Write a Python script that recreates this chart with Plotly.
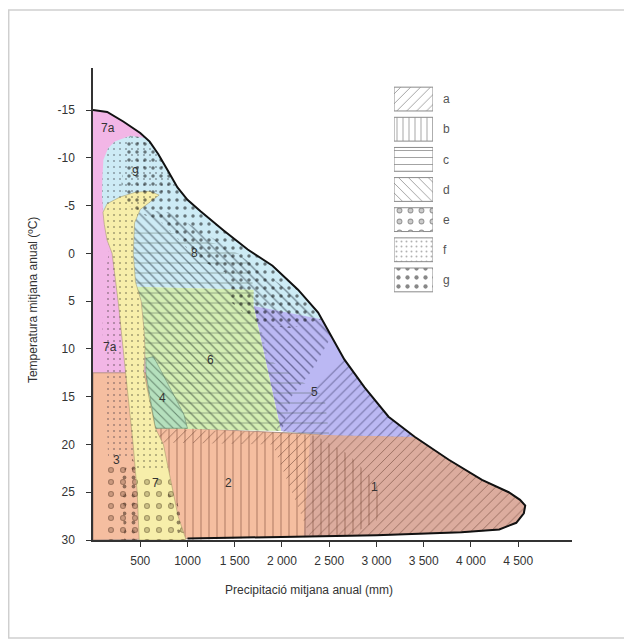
import plotly.graph_objects as go

# ---------------- data: (precipitation mm, temperature °C) ----------------
ENV_TOP = [(0, -15), (150, -14.8), (320, -13.8), (500, -12.6), (600, -11.7), (690, -10.4),
           (790, -8.7), (894, -6.9), (1000, -5.6), (1138, -4.4), (1383, -2.4), (1638, -0.4),
           (1900, 1.3), (2170, 3.8), (2383, 6.2), (2521, 8.7), (2660, 11.1), (2872, 14.0),
           (3128, 17.1), (3404, 19.2), (3766, 21.6), (4117, 23.7), (4400, 25.0), (4520, 25.8),
           (4575, 26.4)]
ENV_BOTTOM = [(4560, 27.2), (4480, 28.2), (4300, 28.9), (3900, 29.2), (3000, 29.5),
              (2000, 29.7), (1000, 29.85)]

YELLOW = [(106, -4.3), (150, -5.2), (287, -5.9), (450, -6.4), (600, -6.5), (700, -6.1),
          (620, -5.5), (500, -4.6), (440, -3.2), (426, 0), (450, 3), (510, 5), (540, 8),
          (550, 10), (540, 12.5), (600, 15.5), (660, 18.3), (745, 20), (851, 25), (900, 27.5),
          (985, 30), (489, 30), (468, 25), (425, 20), (372, 15), (320, 10), (266, 5), (202, 0),
          (149, -1.4), (120, -3)]
YELLOW_DASHED = [(106, -4.3), (150, -5.2), (287, -5.9), (450, -6.4), (600, -6.5), (700, -6.1),
                 (620, -5.5), (500, -4.6), (440, -3.2), (426, 0), (450, 3), (510, 5), (540, 8),
                 (550, 10), (540, 12.5), (600, 15.5), (660, 18.3), (745, 20), (790, 22.5),
                 (450, 22.5), (425, 20), (372, 15), (320, 10), (266, 5), (202, 0),
                 (149, -1.4), (120, -3)]
BLUE_LEFT = [(120, -3.5), (95, -6), (100, -8), (110, -9.8), (160, -11), (230, -11.7),
             (394, -12.3), (540, -12.1)]
BLUE_BOTTOM = [(2420, 6.9), (2050, 6.2), (1700, 5.5), (1700, 3.8), (460, 3.5), (300, -3)]
BLUE_HATCHED = [(430, -3.5), (520, -4.6), (800, -4.3), (1100, -2.6), (1400, -0.8),
                (1700, 1.2), (2000, 3.4), (2250, 5.5), (2420, 6.9), (2050, 6.2), (1700, 5.5),
                (1700, 3.8), (460, 3.5), (450, 3), (426, 0)]
SALMON_TOP = [(0, 12.5), (560, 12.5), (600, 15.5), (660, 18.3), (1000, 18.3), (1800, 18.7),
              (2500, 19.0)]
REG1_LEFT = [(2230, 29.7), (2300, 19.05), (2500, 19.0)]
LAV_TOP = [(1700, 5.5), (2050, 6.2), (2420, 6.9)]
LAV_BOTTOM = [(2500, 19.0), (1990, 18.6)]
LAV_PLAIN_START = [(2460, 9.8), (2300, 12.5), (2100, 15), (2000, 18.6), (2500, 19.0)]
GREEN6 = [(460, 3.5), (1700, 3.8), (1700, 5.5), (1990, 18.6), (660, 18.3), (600, 15.5),
          (560, 12.5), (550, 10), (540, 8), (510, 5)]
GREEN4 = [(560, 11.0), (640, 10.8), (960, 16.8), (1000, 18.3), (660, 18.3), (560, 12.5)]

HATCH_C = [(426, -2.2), (800, -2.2), (1300, -1.0), (1650, 0.5), (1700, 3.8), (1750, 6.5),
           (1850, 11), (2450, 15), (2500, 19.0), (1000, 18.3), (660, 18.3), (600, 15.5),
           (560, 12.5), (550, 10), (540, 8), (510, 5), (450, 3), (426, 0)]
HATCH_A5_START = [(1950, 18.6), (1950, 17.5), (2300, 14), (2640, 11.0)]
HATCH_A1_START = [(700, 19.8), (700, 18.4), (1850, 18.7), (2500, 19.0)]
HATCH_A1_END = [(2300, 29.7), (1900, 20.0)]
HATCH_B = [(660, 18.3), (1000, 18.3), (1800, 18.7), (2350, 19.05), (2700, 21), (3000, 24),
           (3050, 26.5), (3000, 28), (2700, 29.6), (2000, 29.7), (985, 30), (851, 25), (745, 20)]
DASH_REG9 = [(106, -4.3), (95, -6), (100, -8), (110, -9.8), (160, -11), (230, -11.7),
             (394, -12.3), (540, -12.1), (600, -11.7), (690, -10.4), (790, -8.7), (894, -6.9),
             (700, -6.1), (450, -6.4), (287, -5.9), (150, -5.2)]
DASH_STRIP = [(180, -1), (120, 3), (100, 8), (130, 12.5), (140, 16), (160, 21.5),
              (440, 21.5), (425, 20), (372, 15), (320, 10), (266, 5), (202, 0)]
DOTS_UPPER_LEFT = [(320, -9), (330, -11.5), (394, -12.3), (540, -12.1)]
DOTS_UPPER_BOTTOM = [(2420, 6.9), (2100, 7.8), (1750, 7.5), (1450, 5.0), (1400, 2.0),
                     (1100, 0.5), (900, -1.5), (700, -3.5), (550, -4.0), (450, -4.5),
                     (350, -5.2), (300, -7)]
DOTS_LOWER = [(300, 23), (420, 21.5), (480, 23), (500, 30), (330, 30)]
DOTS_LOWER2 = [(780, 25), (880, 25.5), (960, 29), (900, 29.3)]
RINGS_SALMON = [(120, 22.3), (350, 22), (440, 22.5), (468, 25), (489, 30), (110, 30)]
RINGS_YELLOW = [(455, 23), (800, 23), (851, 25), (900, 27.5), (985, 30), (489, 30), (468, 25)]

LABEL_TEXT = ['7a', '7a', '9', '8', '6', '5', '4', '3', '7', '2', '1']
LABEL_MM = [160, 180, 447, 1070, 1245, 2340, 734, 245, 660, 1436, 2979]
LABEL_T = [-13.1, 9.8, -8.5, 0.0, 11.2, 14.5, 15.1, 21.6, 24.0, 24.0, 24.5]

X_TICKS = [500, 1000, 1500, 2000, 2500, 3000, 3500, 4000, 4500]
X_TICKTEXT = ['500', '1000', '1 500', '2 000', '2 500', '3 000', '3 500', '4 000', '4 500']
Y_TICKS = [-15, -10, -5, 0, 5, 10, 15, 20, 25, 30]
Y_TICKTEXT = ['-15', '-10', '-5', '0', '5', '10', '15', '20', '25', '30']

LEGEND_KEYS = ['a', 'b', 'c', 'd', 'e', 'f', 'g']
LEGEND_VALUE = [1, 1, 1, 1, 1, 1, 1]


def top_between(a, b):
    return [p for p in ENV_TOP if a <= p[0] <= b]


PINK = top_between(0, 600) + [(600, 12.5), (0, 12.5)]
BLUE = BLUE_LEFT + top_between(600, 2383) + BLUE_BOTTOM
SALMON = SALMON_TOP + top_between(3404, 4575) + ENV_BOTTOM + [(0, 30)]
REG1 = REG1_LEFT + top_between(3404, 4575) + ENV_BOTTOM[:-2]
LAV = LAV_TOP + top_between(2500, 3404) + LAV_BOTTOM
LAV_PLAIN = LAV_PLAIN_START + top_between(2500, 3404)[::-1]
HATCH_A5 = HATCH_A5_START + top_between(2660, 3404) + [(2500, 19.0)]
HATCH_A1 = HATCH_A1_START + top_between(3404, 4575) + ENV_BOTTOM[:-2] + HATCH_A1_END
DOTS_UPPER = DOTS_UPPER_LEFT + top_between(600, 2383) + DOTS_UPPER_BOTTOM

C_PINK = '#f2b6e6'
C_BLUE = '#cdebf5'
C_YELLOW = '#f7eeaa'
C_SALMON = '#f5bea0'
C_REG1 = '#dcac9e'
C_GREEN6 = '#d4eeb4'
C_GREEN4 = '#b5e0bd'
C_LAV = '#bbb8f3'

fig = go.Figure()


def poly(pts, color=None, pattern=None, line=None):
    xs = [p[0] for p in pts] + [pts[0][0]]
    ys = [p[1] for p in pts] + [pts[0][1]]
    kw = dict(x=xs, y=ys, mode='lines', fill='toself', hoverinfo='skip', showlegend=False,
              line=line or dict(width=0, color='rgba(0,0,0,0)'))
    if pattern is not None:
        pat = dict(pattern)
        if color is None:
            kw['fillcolor'] = 'rgba(0,0,0,0)'
            pat.setdefault('bgcolor', 'rgba(0,0,0,0)')
        else:
            kw['fillcolor'] = color
            pat['bgcolor'] = color
        kw['fillpattern'] = pat
    else:
        kw['fillcolor'] = color
    fig.add_trace(go.Scatter(**kw))


D_HATCH = dict(shape='\\', size=7, solidity=0.2, fgcolor='#1e2a36')

# base fills
poly(PINK, C_PINK)
poly(SALMON, C_SALMON, line=dict(width=0.6, color='#8a6a60'))
poly(REG1, C_REG1)
poly(BLUE, C_BLUE)
poly(BLUE_HATCHED, C_BLUE, pattern=D_HATCH)
poly(LAV, C_LAV, pattern=dict(D_HATCH, fgcolor='#22224a'))
poly(LAV_PLAIN, C_LAV)
poly(GREEN6, C_GREEN6, pattern=dict(D_HATCH, fgcolor='#24342a'))

# other line hatchings
poly(HATCH_C, pattern=dict(shape='-', size=10, solidity=0.09, fgcolor='#46564c'))
poly(HATCH_A5, pattern=dict(shape='/', size=7, solidity=0.15, fgcolor='#2a2a55'))
poly(HATCH_A1, pattern=dict(shape='/', size=7, solidity=0.14, fgcolor='#5a3426'))
poly(HATCH_B, pattern=dict(shape='|', size=8, solidity=0.13, fgcolor='#6a3a2a'))

# region 4
poly(GREEN4, C_GREEN4, pattern=dict(shape='\\', size=6, solidity=0.18, fgcolor='#1c3424'),
     line=dict(width=0.5, color='#5a7a60'))

# yellow band
poly(YELLOW, C_YELLOW, line=dict(width=0.5, color='#9a9060'))

# dashes (f)
poly(DASH_REG9, pattern=dict(shape='.', size=6, solidity=0.1, fgcolor='#4a5258'))
poly(YELLOW_DASHED, pattern=dict(shape='.', size=6, solidity=0.1, fgcolor='#5a5540'))
poly(DASH_STRIP, pattern=dict(shape='.', size=6, solidity=0.1, fgcolor='#5a4a50'))

# dots (g)
poly(DOTS_UPPER, pattern=dict(shape='.', size=8, solidity=0.15, fgcolor='#000000'))
poly(DOTS_LOWER, pattern=dict(shape='.', size=9, solidity=0.14, fgcolor='#2a1a10'))
poly(DOTS_LOWER2, pattern=dict(shape='.', size=9, solidity=0.14, fgcolor='#2a1a10'))

# rings (e)
poly(RINGS_SALMON, pattern=dict(shape='.', size=12, solidity=0.2, fgcolor='#4a2a1a'))
poly(RINGS_SALMON, pattern=dict(shape='.', size=12, solidity=0.08, fgcolor=C_SALMON))
poly(RINGS_YELLOW, pattern=dict(shape='.', size=12, solidity=0.2, fgcolor='#4a3a1a'))
poly(RINGS_YELLOW, pattern=dict(shape='.', size=12, solidity=0.08, fgcolor=C_YELLOW))

# envelope outline
env = ENV_TOP + ENV_BOTTOM
fig.add_trace(go.Scatter(x=[p[0] for p in env], y=[p[1] for p in env], mode='lines',
                         line=dict(color='#111111', width=2), hoverinfo='skip',
                         showlegend=False))

# legend swatches (inset axes)
LEG_PATTERNS = {
    'a': dict(shape='/', size=7, solidity=0.14, fgcolor='#444'),
    'b': dict(shape='|', size=6, solidity=0.16, fgcolor='#444'),
    'c': dict(shape='-', size=7, solidity=0.14, fgcolor='#444'),
    'd': dict(shape='\\', size=7, solidity=0.14, fgcolor='#444'),
    'e': dict(shape='.', size=11, solidity=0.22, fgcolor='#333'),
    'f': dict(shape='.', size=5, solidity=0.12, fgcolor='#666'),
    'g': dict(shape='.', size=9, solidity=0.18, fgcolor='#111'),
}
for key, val in zip(LEGEND_KEYS, LEGEND_VALUE):
    pat = dict(LEG_PATTERNS[key])
    pat['bgcolor'] = 'white'
    fig.add_trace(go.Bar(x=[val], y=[key], base=0, orientation='h', width=0.79,
                         marker=dict(color='white', line=dict(color='#8a8a8a', width=1),
                                     pattern=pat),
                         xaxis='x2', yaxis='y2', hoverinfo='skip', showlegend=False))
    if key == 'e':
        fig.add_trace(go.Bar(x=[val], y=[key], base=0, orientation='h', width=0.79,
                             marker=dict(color='rgba(0,0,0,0)', line=dict(width=0),
                                         pattern=dict(shape='.', size=11, solidity=0.09,
                                                      fgcolor='white',
                                                      bgcolor='rgba(0,0,0,0)')),
                             xaxis='x2', yaxis='y2', hoverinfo='skip', showlegend=False))

for t, xm, yt in zip(LABEL_TEXT, LABEL_MM, LABEL_T):
    fig.add_annotation(x=xm, y=yt, text=t, showarrow=False, xref='x', yref='y',
                       font=dict(size=12, color='#333333'))

FONT = 'Liberation Sans, Arial, sans-serif'
fig.add_annotation(x=0.451, y=-0.106, xref='paper', yref='paper', showarrow=False,
                   xanchor='center', yanchor='middle',
                   text='Precipitació mitjana anual (mm)',
                   font=dict(size=12, color='#333333', family=FONT))
fig.add_annotation(x=-0.125, y=0.5085, xref='paper', yref='paper', showarrow=False,
                   xanchor='center', yanchor='middle',
                   textangle=-90, text='Temperatura mitjana anual (ºC)',
                   font=dict(size=12, color='#333333', family=FONT))

fig.add_shape(type='rect', xref='paper', yref='paper', x0=-0.176, x1=1.1127,
              y0=-0.2076, y1=1.1229, line=dict(color='#cfcfcf', width=1.5), layer='below')

fig.update_layout(
    width=624, height=633,
    margin=dict(l=85, r=60, t=60, b=101),
    paper_bgcolor='white', plot_bgcolor='white',
    font=dict(family=FONT, size=12, color='#333333'),
    barmode='overlay',
    showlegend=False,
    xaxis=dict(range=[0, 5070], showgrid=False, zeroline=False, showline=True,
               linecolor='#333333', linewidth=1.5, ticks='outside', ticklen=5,
               tickcolor='#333333', tickvals=X_TICKS, ticktext=X_TICKTEXT,
               ticklabelstandoff=4, tickfont=dict(size=12, color='#333333')),
    yaxis=dict(range=[30, -19.4], showgrid=False, zeroline=False, showline=True,
               linecolor='#333333', linewidth=1.5, ticks='outside', ticklen=5,
               tickcolor='#333333', tickvals=Y_TICKS, ticktext=Y_TICKTEXT,
               ticklabelstandoff=9, tickfont=dict(size=12, color='#333333')),
    xaxis2=dict(domain=[0.6284, 0.7098], range=[0, 1], anchor='y2', showgrid=False,
                zeroline=False, showticklabels=False, showline=False, fixedrange=True),
    yaxis2=dict(domain=[0.5191, 0.9661], anchor='x2', side='right', type='category',
                categoryorder='array', categoryarray=LEGEND_KEYS, autorange='reversed',
                showgrid=False, zeroline=False, showline=False, ticks='',
                ticklabelstandoff=9, tickfont=dict(size=12, color='#555555'),
                fixedrange=True),
)

fig.write_html('out.html')
